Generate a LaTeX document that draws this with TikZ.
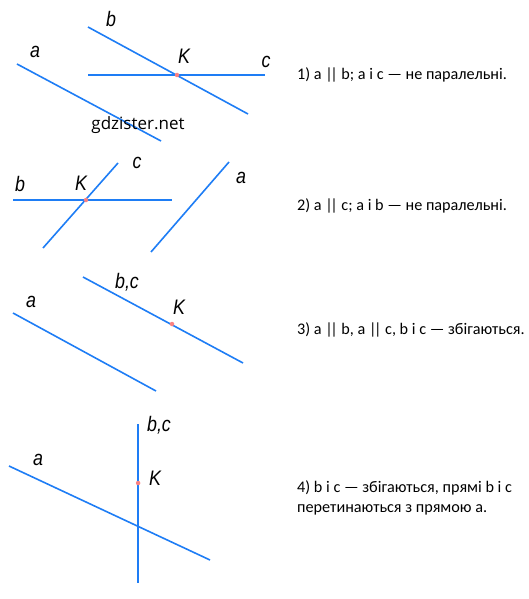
\documentclass[tikz,border=0pt]{standalone}
\usepackage{fontspec}
\setmainfont{Carlito}
\newfontfamily\lblfont{Liberation Sans}
\newfontfamily\wmfont{Open Sans}
\begin{document}
\begin{tikzpicture}[x=1pt,y=-1pt,
  ln/.style={draw={rgb,255:red,30;green,125;blue,245}, line width=1.6pt},
  pt/.style={circle, fill={rgb,255:red,250;green,130;blue,130}, inner sep=0pt, minimum size=4.5pt},
  lbl/.style={font=\lblfont\itshape\fontsize{21}{21}\selectfont, inner sep=0pt, xscale=0.85},
  txt/.style={font=\fontsize{16.2}{20}\selectfont, anchor=west, inner sep=0pt, align=left},
  wm/.style={font=\wmfont\fontsize{17}{17}\selectfont, inner sep=0pt}]
\useasboundingbox (0,0) rectangle (529,599);
% Panel 1
\coordinate (a1s) at (17,64); \coordinate (a1e) at (161,141);
\coordinate (b1s) at (88,27); \coordinate (b1e) at (248,114);
\coordinate (c1s) at (88,74.9); \coordinate (c1e) at (265,74.9);
\draw[ln] (a1s) -- (a1e);
\draw[ln] (b1s) -- (b1e);
\draw[ln] (c1s) -- (c1e);
\node[pt] (K1) at (177,75) {};
\node[lbl] (la1) at (35,52) {a};
\node[lbl] (lb1) at (111,19) {b};
\node[lbl] (lK1) at (184,56) {K};
\node[lbl] (lc1) at (266,62) {c};
\node[wm] (wm) at (138,125) {gdzister.net};
% Panel 2
\coordinate (b2s) at (13,199.9); \coordinate (b2e) at (172,199.9);
\coordinate (c2s) at (43,248); \coordinate (c2e) at (118,163);
\coordinate (a2s) at (151,252); \coordinate (a2e) at (229,162);
\draw[ln] (b2s) -- (b2e);
\draw[ln] (c2s) -- (c2e);
\draw[ln] (a2s) -- (a2e);
\node[pt] (K2) at (86,200) {};
\node[lbl] (lb2) at (20,184) {b};
\node[lbl] (lK2) at (81,183) {K};
\node[lbl] (lc2) at (137,163) {c};
\node[lbl] (la2) at (241,178) {a};
% Panel 3
\coordinate (a3s) at (13,313); \coordinate (a3e) at (156,391);
\coordinate (b3s) at (83,277); \coordinate (b3e) at (243,363);
\draw[ln] (a3s) -- (a3e);
\draw[ln] (b3s) -- (b3e);
\node[pt] (K3) at (172,324) {};
\node[lbl] (la3) at (31,302) {a};
\node[lbl] (lb3) at (127,282) {b,c};
\node[lbl] (lK3) at (179,307) {K};
% Panel 4
\coordinate (b4s) at (138.1,424); \coordinate (b4e) at (138.1,583);
\coordinate (a4s) at (9,466); \coordinate (a4e) at (210,560);
\draw[ln] (b4s) -- (b4e);
\draw[ln] (a4s) -- (a4e);
\node[pt] (K4) at (138.1,483) {};
\node[lbl] (lb4) at (159,425) {b,c};
\node[lbl] (la4) at (38,460) {a};
\node[lbl] (lK4) at (155,478) {K};
% Texts
\node[txt] (t1) at (297,75) {1) a |\kern-2.5pt| b; a і c — не паралельні.};
\node[txt] (t2) at (297,206) {2) a |\kern-2.5pt| c; a і b — не паралельні.};
\node[txt] (t3) at (297,330) {3) a |\kern-2.5pt| b, a |\kern-2.5pt| c, b і c — збігаються.};
\node[txt] (t4) at (297,498) {4) b і c — збігаються, прямі b і c\\перетинаються з прямою a.};
\end{tikzpicture}
\end{document}
